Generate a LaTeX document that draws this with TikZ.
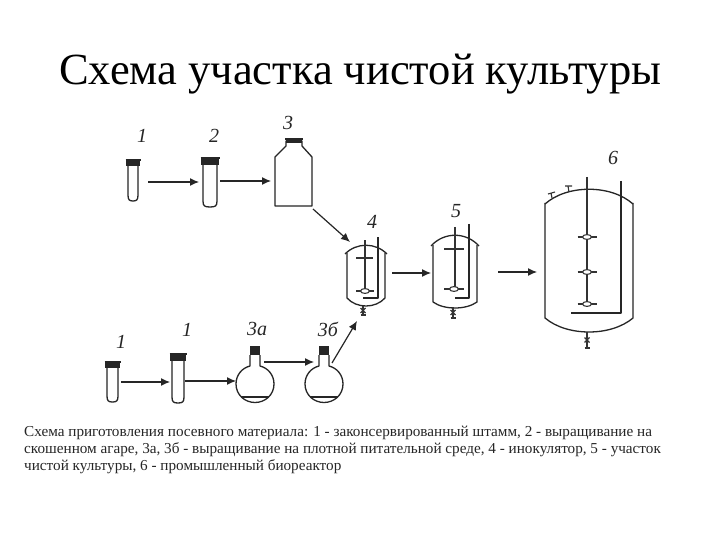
\documentclass[tikz,border=0pt]{standalone}
\usepackage{fontspec}
\setmainfont{Liberation Serif}
\usetikzlibrary{arrows.meta}
\tikzset{
  ln/.style={line width=1.3pt,black!85,line join=round},
  thin ln/.style={line width=1.1pt,black!80},
  conn/.style={line width=1.2pt,black!85,-{Latex[length=9pt,width=8pt]}},
  num/.style={font=\itshape\fontsize{20}{22}\selectfont,inner sep=0pt,black!85},
  ttl/.style={font=\fontsize{44.5}{50}\selectfont,inner sep=0pt,anchor=base west,black},
  captext/.style={font=\fontsize{15.2}{17}\selectfont,inner sep=0pt,anchor=base west,black!85}
}
% tube: xl, xr, top, bottom, stopper height
\newcommand\mytube[5]{%
  \draw[ln] (#1,#3) -- (#1,#4-6) .. controls (#1,#4-1) and (#1+1.5,#4) .. ({(#1+#2)/2},#4) .. controls (#2-1.5,#4) and (#2,#4-1) .. (#2,#4-6) -- (#2,#3);
  \fill[black!85] (#1-2,#3) rectangle (#2+2,#3+#5);
  \draw[ln] (#1-2.5,#3) -- (#2+2.5,#3);
}
% flask: centre x
\newcommand\myflask[1]{%
  \draw[ln] (#1-5,355) -- (#1-5,366) .. controls (#1-13,368) and (#1-19,375) .. (#1-19,384)
     .. controls (#1-19,395) and (#1-10,402.5) .. (#1,402.5)
     .. controls (#1+10,402.5) and (#1+19,395) .. (#1+19,384)
     .. controls (#1+19,375) and (#1+13,368) .. (#1+5,366) -- (#1+5,355);
  \draw[ln] (#1-14,397) -- (#1+14,397);
  \fill[black!85] (#1-5,346) rectangle (#1+5,355);
}
% vessel: xl, xr, dome peak, dome edge, bottom edge, bottom peak, dome overhang
\newcommand\myvessel[7]{%
  \draw[ln] (#1-#7,#4+1) .. controls ({#1+(#2-#1)*0.25},{#4-(#4-#3)*4/3}) and ({#1+(#2-#1)*0.75},{#4-(#4-#3)*4/3}) .. (#2+#7,#4+1);
  \draw[ln] (#1,#4) -- (#1,#5) .. controls ({#1+(#2-#1)*0.25},{#5+(#6-#5)*4/3}) and ({#1+(#2-#1)*0.75},{#5+(#6-#5)*4/3}) .. (#2,#5) -- (#2,#4);
}
\newcommand\myimp[3]{% x, y, half width
  \draw[thin ln] (#1-#3,#2) -- (#1+#3,#2);
  \draw[thin ln,fill=white] (#1,#2) ellipse[x radius=4.5,y radius=2.4];
}
\newcommand\myvalve[3]{% x, top, bottom
  \draw[thin ln] (#1,#2) -- (#1,#3);
  \draw[thin ln] (#1-2.5,#3) -- (#1+2.5,#3);
  \draw[thin ln] (#1-2.5,{(#2+#3)/2-2.5}) -- (#1+2.5,{(#2+#3)/2+2.5}) (#1+2.5,{(#2+#3)/2-2.5}) -- (#1-2.5,{(#2+#3)/2+2.5});
}
\begin{document}
\begin{tikzpicture}[x=1pt,y=-1pt]
\useasboundingbox (0,0) rectangle (720,540);
\fill[white] (0,0) rectangle (720,540);

\node[ttl] (t) at (59,84.5) {Схема участка чистой культуры};

% top row
\mytube{128}{138}{160}{201}{6}
\mytube{203}{217}{158}{207}{7}
\draw[ln] (275,206) -- (312,206) -- (312,157) -- (302,146) -- (302,141) -- (286,141) -- (286,146) -- (275,157) -- cycle;
\fill[black!85] (286,139) rectangle (302,143);
\draw[ln] (285,139) -- (303,139);

\node[num] (l1) at (142,136) {1};
\node[num] (l2) at (214,136) {2};
\node[num] (l3) at (288,123) {3};
\node[num] (l4) at (372,222) {4};
\node[num] (l5) at (456,211) {5};
\node[num] (l6) at (613,158) {6};

\coordinate (a1) at (148,182); \coordinate (a2) at (199,182);
\coordinate (a3) at (220,181); \coordinate (a4) at (271,181);
\coordinate (a5) at (313,209); \coordinate (a6) at (350,242);
\coordinate (a7) at (392,273); \coordinate (a8) at (431,273);
\coordinate (a9) at (498,272); \coordinate (a10) at (537,272);
\draw[conn] (a1) -- (a2);
\draw[conn] (a3) -- (a4);
\draw[conn] (a5) -- (a6);
\draw[conn] (a7) -- (a8);
\draw[conn] (a9) -- (a10);

% vessel 4
\myvessel{347}{385}{245}{253}{298}{306}{2}
\draw[thin ln] (365,240) -- (365,291);
\draw[thin ln] (356,258) -- (373,258);
\myimp{365}{291}{9}
\draw[ln] (378,237) -- (378,298) -- (363,298);
\myvalve{363}{306}{315}

% vessel 5
\myvessel{433}{477}{235}{245}{302}{308}{2}
\draw[thin ln] (455,227) -- (455,288);
\draw[thin ln] (444,249) -- (464,249);
\myimp{454}{289}{10}
\draw[ln] (469,224) -- (469,298) -- (455,298);
\myvalve{453}{307}{318}

% vessel 6
\myvessel{545}{633}{189}{203}{318}{332}{0}
\draw[thin ln] (587,177) -- (587,304);
\myimp{587}{237}{9.5}
\myimp{587}{272}{9.5}
\myimp{587}{304}{9.5}
\draw[ln] (621,181) -- (621,313) -- (571,313);
\myvalve{587}{332}{348}
\draw[thin ln] (569,192) -- (568,186) (565,186) -- (572,186);
\draw[thin ln] (552,198) -- (551,193) (548,194) -- (555,192);

% bottom row
\mytube{107}{118}{362}{402}{6}
\mytube{172}{184}{354}{403}{7}
\myflask{255}
\myflask{324}

\node[num] (m1) at (121,342) {1};
\node[num] (m2) at (187,330) {1};
\node[num] (m3) at (257,329) {3а};
\node[num] (m4) at (328,329) {3б};

\coordinate (b1) at (121,382); \coordinate (b2) at (170,382);
\coordinate (b3) at (185,381); \coordinate (b4) at (236,381);
\coordinate (b5) at (264,362); \coordinate (b6) at (314,362);
\coordinate (b7) at (332,363); \coordinate (b8) at (357,321);
\draw[conn] (b1) -- (b2);
\draw[conn] (b3) -- (b4);
\draw[conn] (b5) -- (b6);
\draw[conn] (b7) -- (b8);

\node[captext] (c1) at (24,436) {Схема приготовления посевного материала: 1 - законсервированный штамм, 2 - выращивание на};
\node[captext] (c2) at (24,453.5) {скошенном агаре, 3а, 3б - выращивание на плотной питательной среде, 4 - инокулятор, 5 - участок};
\node[captext] (c3) at (24,470.5) {чистой культуры, 6 - промышленный биореактор};
\end{tikzpicture}
\end{document}
